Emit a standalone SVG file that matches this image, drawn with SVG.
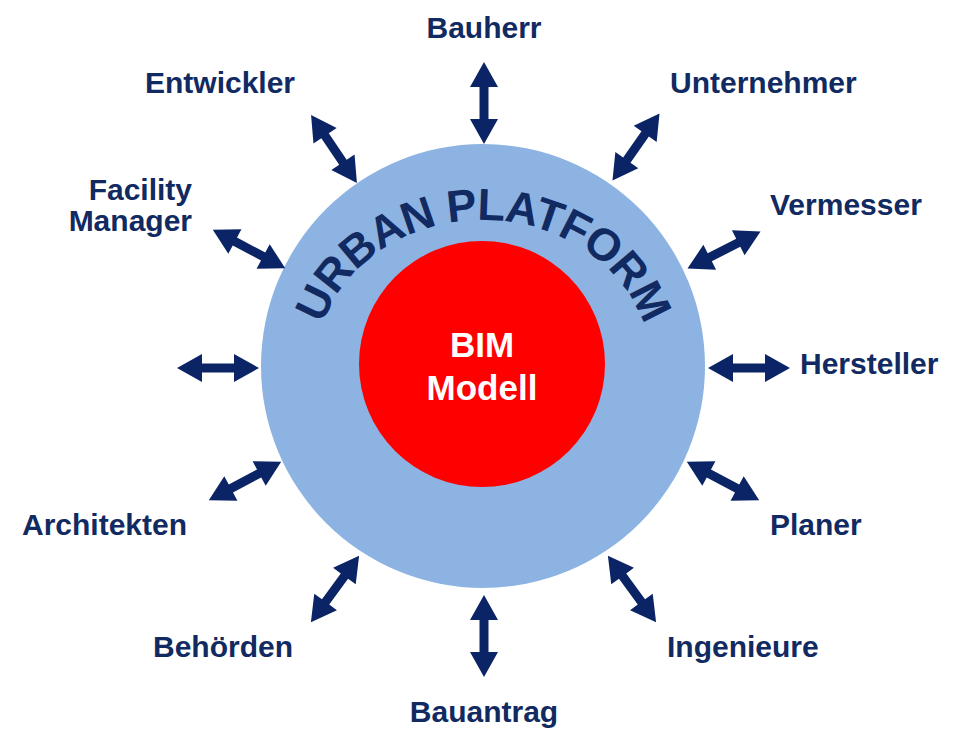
<svg xmlns="http://www.w3.org/2000/svg" xmlns:xlink="http://www.w3.org/1999/xlink" width="958" height="730" viewBox="0 0 958 730">
<style>
.lbl{font-family:"Liberation Sans",Arial,sans-serif;font-weight:bold;font-size:30px;fill:#112A61}
.core{font-family:"Liberation Sans",Arial,sans-serif;font-weight:bold;font-size:35px;fill:#ffffff;text-anchor:middle}
.arc{font-family:"Liberation Sans",Arial,sans-serif;font-weight:bold;font-size:45px;letter-spacing:-1px;fill:#112A61}
.arr{fill:#0B2465}
</style>
<defs>
<path id="dbl" d="M-41,0 L-16,-14 L-16,-4.5 L16,-4.5 L16,-14 L41,0 L16,14 L16,4.5 L-16,4.5 L-16,14 Z"/>
<path id="arcPath" d="M315,368 A168 148 0 0 1 651,368"/>
</defs>
<rect width="958" height="730" fill="#ffffff"/>
<g id="platform">
<circle cx="483" cy="366" r="222" fill="#8DB3E2"/>
<text class="arc"><textPath xlink:href="#arcPath" href="#arcPath" startOffset="50%" text-anchor="middle">URBAN PLATFORM</textPath></text>
</g>
<g id="bim">
<circle cx="482" cy="364" r="123" fill="#FF0000"/>
<text class="core" x="482" y="357">BIM</text>
<text class="core" x="482" y="400">Modell</text>
</g>
<g id="connectors" class="arr">
<use href="#dbl" xlink:href="#dbl" transform="translate(484,103) rotate(90)"/>
<use href="#dbl" xlink:href="#dbl" transform="translate(484,636) rotate(90)"/>
<use href="#dbl" xlink:href="#dbl" transform="translate(218,368)"/>
<use href="#dbl" xlink:href="#dbl" transform="translate(749,368)"/>
<use href="#dbl" xlink:href="#dbl" transform="translate(334,149) rotate(56)"/>
<use href="#dbl" xlink:href="#dbl" transform="translate(636,147) rotate(-55)"/>
<use href="#dbl" xlink:href="#dbl" transform="translate(249,249) rotate(28)"/>
<use href="#dbl" xlink:href="#dbl" transform="translate(724,250) rotate(-27)"/>
<use href="#dbl" xlink:href="#dbl" transform="translate(245,481) rotate(-28)"/>
<use href="#dbl" xlink:href="#dbl" transform="translate(723,481) rotate(28)"/>
<use href="#dbl" xlink:href="#dbl" transform="translate(335,589) rotate(-54)"/>
<use href="#dbl" xlink:href="#dbl" transform="translate(632,589) rotate(54)"/>
</g>
<g id="bauherr"><text class="lbl" x="484" y="38" text-anchor="middle">Bauherr</text></g>
<g id="entwickler"><text class="lbl" x="220" y="93" text-anchor="middle">Entwickler</text></g>
<g id="unternehmer"><text class="lbl" x="670" y="93">Unternehmer</text></g>
<g id="facility-manager"><text class="lbl" x="192" y="200" text-anchor="end">Facility</text><text class="lbl" x="192" y="231" text-anchor="end">Manager</text></g>
<g id="vermesser"><text class="lbl" x="770" y="215">Vermesser</text></g>
<g id="hersteller"><text class="lbl" x="800" y="374">Hersteller</text></g>
<g id="architekten"><text class="lbl" x="22" y="535">Architekten</text></g>
<g id="planer"><text class="lbl" x="770" y="535">Planer</text></g>
<g id="behoerden"><text class="lbl" x="153" y="657">Behörden</text></g>
<g id="ingenieure"><text class="lbl" x="667" y="657">Ingenieure</text></g>
<g id="bauantrag"><text class="lbl" x="484" y="722" text-anchor="middle">Bauantrag</text></g>
</svg>
